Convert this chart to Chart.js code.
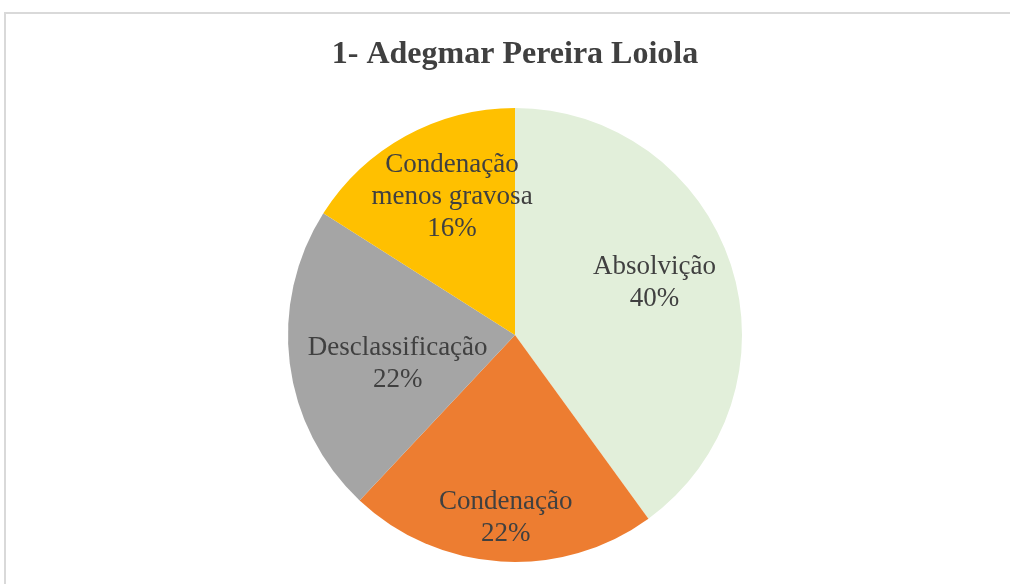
<!DOCTYPE html>
<html>
<head>
<meta charset="utf-8">
<script src="https://cdn.jsdelivr.net/npm/chart.js@4"></script>
<style>
  body { margin: 0; background: #fff; overflow: hidden; }
  #frame { position: absolute; left: 4px; top: 12px; width: 1100px; height: 700px; border: 2px solid #d9d9d9; }
  #myChart { position: absolute; left: 0; top: 0; }
</style>
</head>
<body>
<div id="frame"></div>
<canvas id="myChart" width="1010" height="584"></canvas>
<script>
// categories and values (percent)
const categories = ["Absolvição", "Condenação", "Desclassificação", "Condenação menos gravosa"];
const labelLines = [["Absolvição"], ["Condenação"], ["Desclassificação"], ["Condenação", "menos gravosa"]];
const values = [40, 22, 22, 16];
const colors = ["#E2EFDA", "#ED7D31", "#A5A5A5", "#FFC000"];
// label placement: fraction of radius along the slice middle, plus a small nudge
const labelRadius = [0.66, 0.79, 0.53, 0.64];
const labelNudge = [[-3, -6], [2, 4], [2, 14], [7, -11]];

const sliceLabels = {
  id: "sliceLabels",
  afterDatasetsDraw(chart) {
    const ctx = chart.ctx;
    const meta = chart.getDatasetMeta(0);
    ctx.save();
    ctx.font = "27px 'Liberation Serif', 'Times New Roman', serif";
    ctx.fillStyle = "#404040";
    ctx.textAlign = "center";
    ctx.textBaseline = "middle";
    meta.data.forEach((arc, i) => {
      const p = arc.getProps(["x", "y", "startAngle", "endAngle", "outerRadius"], true);
      const mid = (p.startAngle + p.endAngle) / 2;
      const r = p.outerRadius * labelRadius[i];
      const cx = p.x + Math.cos(mid) * r + labelNudge[i][0];
      const cy = p.y + Math.sin(mid) * r + labelNudge[i][1];
      const lines = labelLines[i].concat([values[i] + "%"]);
      const lh = 32;
      const top = cy - (lines.length - 1) * lh / 2;
      lines.forEach((t, k) => ctx.fillText(t, cx, top + k * lh));
    });
    ctx.restore();
  }
};

const ctx = document.getElementById("myChart").getContext("2d");
new Chart(ctx, {
  type: "pie",
  data: {
    labels: categories,
    datasets: [
      {
        data: values,
        backgroundColor: colors,
        borderWidth: 0,
      },
    ],
  },
  options: {
    responsive: false,
    animation: false,
    layout: { padding: { left: 20, right: 0, top: 0, bottom: 22 } },
    plugins: {
      legend: { display: false },
      tooltip: { enabled: false },
      title: {
        display: true,
        text: "1- Adegmar Pereira Loiola",
        color: "#404040",
        font: { family: "'Liberation Serif', 'Times New Roman', serif", size: 32, weight: "bold", lineHeight: 1.2 },
        padding: { top: 36, bottom: 33.6 },
      },
    },
  },
  plugins: [sliceLabels],
});
</script>
</body>
</html>
